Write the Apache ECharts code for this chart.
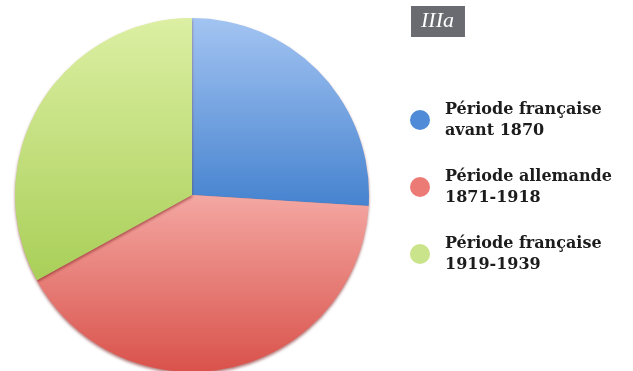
<!DOCTYPE html>
<html>
<head>
<meta charset="utf-8">
<script src="https://cdn.jsdelivr.net/npm/echarts@6/dist/echarts.min.js"></script>
<style>
  html, body { margin: 0; padding: 0; background: #ffffff; }
  #chart { width: 633px; height: 371px; }
</style>
</head>
<body>
<div id="chart"></div>
<script>
// Shares of each period (percent)
const periods = [
  'Période française\navant 1870',
  'Période allemande\n1871-1918',
  'Période française\n1919-1939'
];
const shares = [26, 41, 33];
const topColors = ['#a3c4f2', '#f4a7a2', '#dcefa3'];
const bottomColors = ['#4683cf', '#d9524b', '#a9cf58'];
const legendColors = ['#4f8bd6', '#ec7b76', '#c9e48a'];
const chartTitle = 'IIIa';

const chart = echarts.init(document.getElementById('chart'), null, { renderer: 'canvas' });

const data = periods.map((name, i) => ({
  name: name,
  value: shares[i],
  itemStyle: {
    color: new echarts.graphic.LinearGradient(0, 0, 0, 1, [
      { offset: 0, color: topColors[i] },
      { offset: 1, color: bottomColors[i] }
    ])
  }
}));

chart.setOption({
  animation: false,
  title: {
    text: chartTitle,
    left: 411,
    top: 6,
    backgroundColor: '#6a6b70',
    padding: [4, 11, 4, 10],
    textStyle: {
      color: '#ffffff',
      fontFamily: 'Liberation Serif, DejaVu Serif, serif',
      fontStyle: 'italic',
      fontWeight: 'normal',
      fontSize: 22,
      lineHeight: 23
    }
  },
  legend: {
    orient: 'vertical',
    left: 405,
    top: 94,
    icon: 'circle',
    itemWidth: 20,
    itemHeight: 20,
    itemGap: 25,
    selectedMode: false,
    data: periods.map((name, i) => ({
      name: name,
      itemStyle: { color: legendColors[i] }
    })),
    textStyle: {
      color: '#1c1c1c',
      fontFamily: 'DejaVu Serif, Liberation Serif, serif',
      fontWeight: 'bold',
      fontSize: 16,
      lineHeight: 21,
      padding: [0, 0, 0, 10]
    }
  },
  series: [{
    type: 'pie',
    center: [192, 195],
    radius: 177,
    startAngle: 90,
    clockwise: true,
    label: { show: false },
    labelLine: { show: false },
    emphasis: { disabled: true },
    itemStyle: {
      borderWidth: 0,
      shadowColor: 'rgba(120, 20, 20, 0.55)',
      shadowBlur: 3,
      shadowOffsetY: 2
    },
    data: data
  }]
});
</script>
</body>
</html>
